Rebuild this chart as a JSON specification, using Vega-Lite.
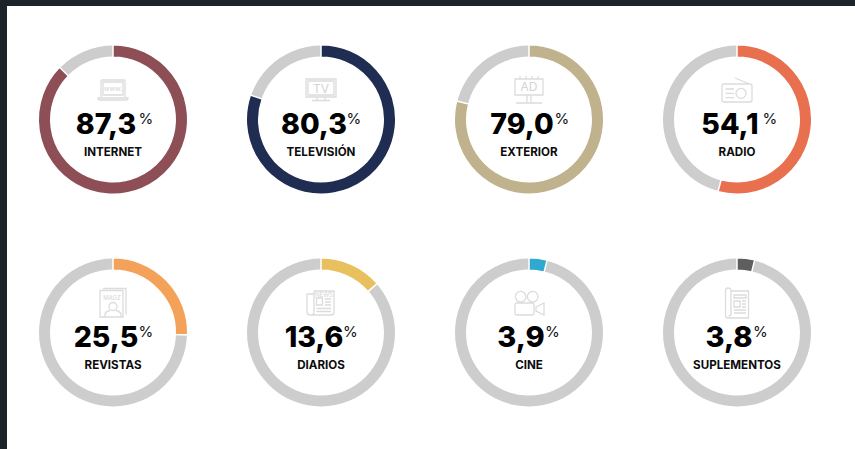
{
"$schema":"https://vega.github.io/schema/vega-lite/v6.json",
"autosize":{"type":"fit","contains":"padding"},
"width":855,"height":449,"padding":{"left":7,"top":6,"right":0,"bottom":0},
"background":"#1c2329",
"config":{"view":{"stroke":null,"fill":"#ffffff"}},
"data":{"values":[
{"medio":"INTERNET","pct":87.3,"texto":"87,3","columna":1,"fila":1},
{"medio":"TELEVISIÓN","pct":80.3,"texto":"80,3","columna":2,"fila":1},
{"medio":"EXTERIOR","pct":79.0,"texto":"79,0","columna":3,"fila":1},
{"medio":"RADIO","pct":54.1,"texto":"54,1","columna":4,"fila":1},
{"medio":"REVISTAS","pct":25.5,"texto":"25,5","columna":1,"fila":2},
{"medio":"DIARIOS","pct":13.6,"texto":"13,6","columna":2,"fila":2},
{"medio":"CINE","pct":3.9,"texto":"3,9","columna":3,"fila":2},
{"medio":"SUPLEMENTOS","pct":3.8,"texto":"3,8","columna":4,"fila":2}
]},
"encoding":{
"x":{"field":"columna","type":"quantitative","axis":null,"scale":{"domain":[0.49038,4.56731],"nice":false,"zero":false}},
"y":{"field":"fila","type":"quantitative","axis":null,"scale":{"domain":[0.46714,2.5469],"nice":false,"zero":false,"reverse":true}}
},
"layer":[
{"mark":{"type":"arc","radius":74,"radius2":63,"fill":"#cdcdcd"},
 "encoding":{"theta":{"datum":100,"scale":{"domain":[0,100],"range":[0,6.28319]}},"theta2":{"datum":0}}},
{"mark":{"type":"arc","radius":74.75,"radius2":62.25,"stroke":"#ffffff","strokeWidth":1.5},
 "encoding":{"theta":{"field":"pct","type":"quantitative","stack":null},"theta2":{"datum":0},
  "fill":{"field":"medio","type":"nominal","legend":null,"scale":{
   "domain":["INTERNET","TELEVISIÓN","EXTERIOR","RADIO","REVISTAS","DIARIOS","CINE","SUPLEMENTOS"],
   "range":["#8d4f55","#1f2d52","#bfb28c","#e8704f","#f4a259","#e8c15e","#2fa9cf","#5e5e5e"]}}}},
{"mark":{"type":"point","filled":false,"size":4,"stroke":"#dcdcdc","strokeWidth":1.3,"opacity":1,"yOffset":-29.5},
 "encoding":{"shape":{"field":"medio","type":"nominal","legend":null,"scale":{
   "domain":["INTERNET","TELEVISIÓN","EXTERIOR","RADIO","REVISTAS","DIARIOS","CINE","SUPLEMENTOS"],
   "range":[
   "M-12,7V-9Q-12,-10 -11,-10H11Q12,-10 12,-9V7M-10,-8H10V5H-10ZM-15,8H15Q15,10 13,10H-13Q-15,10 -15,8Z",
   "M-15,-11H15V7H-15ZM-13,-9H13V5H-13ZM-4,7V10M4,7V10M-9,10.5H9",
   "M-14,-11H14V5H-14ZM-9,-11V-14M-3,-11V-14M3,-11V-14M9,-11V-14M-2,5V12M2,5V12M-13,13H13",
   "M-13,-6H13Q15,-6 15,-4V10Q15,12 13,12H-13Q-15,12 -15,10V-4Q-15,-6 -13,-6ZM-2,-12L12.5,-6M9,3.3A5,5 0 1 1 -1,3.3A5,5 0 1 1 9,3.3ZM-11.5,-1H-3M-11.5,3.3H-3M-11.5,7.7H-3",
   "M-13,-12.5H10V14H-13ZM-10,-14.5H13V11.5M4,3.5A4,4 0 1 1 -4,3.5A4,4 0 1 1 4,3.5ZM-8,14V12Q-8,8.5 -3,7.5M8,14V12Q8,8.5 3,7.5",
   "M-7,-12H13V9Q13,12 10,12H-11Q-14,12 -14,9V-9H-7M-7,-12V9Q-7,12 -11,12M-4.5,-5H1.5V2H-4.5ZM4,-4H10M4,-1H10M4,2H10M-4.5,5.5H10M-4.5,8.5H10",
   "M-3,-6.3A5.3,5.3 0 1 1 -13.6,-6.3A5.3,5.3 0 1 1 -3,-6.3ZM9,-6.3A5.3,5.3 0 1 1 -1.6,-6.3A5.3,5.3 0 1 1 9,-6.3ZM-12,0H3Q5,0 5,2V10Q5,12 3,12H-12Q-14,12 -14,10V2Q-14,0 -12,0ZM7,4L15,0V12L7,8Z",
   "M-6,-12H11.5V15H-9Q-11.5,15 -11.5,12V-12Q-11.5,-15 -9,-15Q-6,-15 -6,-12V11Q-6,13 -8.5,13M-3,-8H9V-5H-3ZM-3,-2H3V4H-3ZM5,-2H9M5,1H9M5,4H9M-3,7H9M-3,10H9"
   ]}}}},
{"transform":[{"filter":"datum.medio==='INTERNET'"}],"mark":{"type":"text","text":"www.","font":"Inter","fontSize":7,"fill":"#d4d4d4","dy":-31},"encoding":{}},
{"transform":[{"filter":"datum.medio==='TELEVISIÓN'"}],"mark":{"type":"text","text":"TV","font":"Inter","fontSize":12,"fill":"#d4d4d4","dy":-31},"encoding":{}},
{"transform":[{"filter":"datum.medio==='EXTERIOR'"}],"mark":{"type":"text","text":"AD","font":"Inter","fontSize":12,"fill":"#d4d4d4","dy":-32.5},"encoding":{}},
{"transform":[{"filter":"datum.medio==='REVISTAS'"}],"mark":{"type":"text","text":"MAGZ","font":"Inter","fontSize":6,"fill":"#d4d4d4","dy":-35,"dx":-1},"encoding":{}},
{"transform":[{"filter":"datum.medio==='DIARIOS'"}],"mark":{"type":"text","text":"NEWS","font":"Inter","fontSize":6,"fill":"#d4d4d4","dy":-38,"dx":3},"encoding":{}},
{"transform":[{"filter":"datum.pct>=10"}],"mark":{"type":"text","font":"Inter","fontSize":28.5,"fontWeight":800,"fill":"#000000","align":"center","baseline":"alphabetic","dx":-7,"dy":14},"encoding":{"text":{"field":"texto"}}},
{"transform":[{"filter":"datum.pct<10"}],"mark":{"type":"text","font":"Inter","fontSize":29,"fontWeight":800,"fill":"#000000","align":"center","baseline":"alphabetic","dx":-8,"dy":14.5},"encoding":{"text":{"field":"texto"}}},
{"transform":[{"filter":"datum.pct>=20"}],"mark":{"type":"text","text":"%","font":"Inter","fontSize":15,"fontWeight":400,"fill":"#111111","align":"left","baseline":"alphabetic","dx":25.5,"dy":4.8},"encoding":{}},
{"transform":[{"filter":"datum.pct>=10 && datum.pct<20"}],"mark":{"type":"text","text":"%","font":"Inter","fontSize":15,"fontWeight":400,"fill":"#111111","align":"left","baseline":"alphabetic","dx":22,"dy":4.8},"encoding":{}},
{"transform":[{"filter":"datum.pct<10"}],"mark":{"type":"text","text":"%","font":"Inter","fontSize":15,"fontWeight":400,"fill":"#111111","align":"left","baseline":"alphabetic","dx":16,"dy":4.8},"encoding":{}},
{"mark":{"type":"text","font":"Inter","fontSize":11.6,"fontWeight":700,"fill":"#0c0c0c","align":"center","baseline":"middle","dy":33.5},"encoding":{"text":{"field":"medio"}}}
]
}
